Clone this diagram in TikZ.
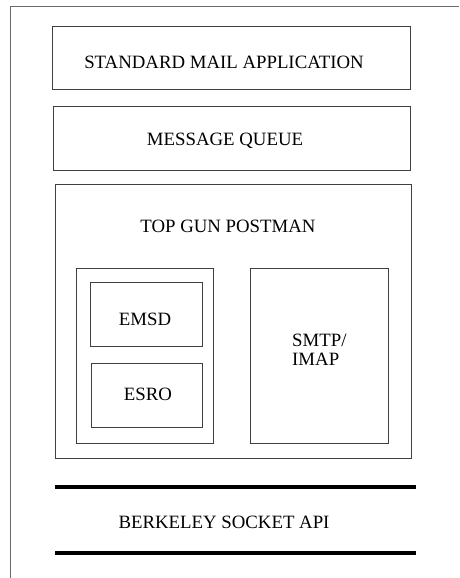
\documentclass[tikz,border=0pt]{standalone}
\usepackage{fontspec}
\setmainfont{Liberation Serif}
\definecolor{boxgray}{HTML}{404040}
\definecolor{framegray}{HTML}{6A6A6A}
\begin{document}
\begin{tikzpicture}[x=1pt,y=-1pt,
  box/.style={draw=boxgray, line width=1pt, inner sep=0pt, fill=none},
  lbl/.style={inner sep=0pt, anchor=base, font=\fontsize{18.8}{18.4}\selectfont},
  bar/.style={line width=4pt, black},
  frame/.style={draw=framegray, line width=1pt}]
\useasboundingbox (0,0) rectangle (459,578);
% open frame
\coordinate (ftr) at (459,6.5);
\coordinate (ftl) at (10.5,6.5);
\coordinate (fbl) at (10.5,578);
\draw[frame] (ftr) -- (ftl) -- (fbl);
% boxes
\node[box, minimum width=357.7pt, minimum height=63.3pt] (sma) at (231.2,57.7) {};
\node[box, minimum width=356.5pt, minimum height=64pt] (mq) at (232.2,138) {};
\node[box, minimum width=356pt, minimum height=274pt] (tgp) at (233,321) {};
\node[box, minimum width=137.5pt, minimum height=175pt] (grp) at (144.75,355.5) {};
\node[box, minimum width=112pt, minimum height=63.5pt] (emsd) at (146,314.25) {};
\node[box, minimum width=111pt, minimum height=64pt] (esro) at (146.5,395) {};
\node[box, minimum width=137.5pt, minimum height=175pt] (smtp) at (319.25,355.5) {};
% labels
\node[lbl] (smat) at (224,68.5) {STANDARD MAIL APPLICATION};
\node[lbl] (mqt) at (225,145.7) {MESSAGE QUEUE};
\node[lbl] (tgpt) at (228,232.9) {TOP GUN POSTMAN};
\node[lbl] (emsdt) at (145,325.9) {EMSD};
\node[lbl] (esrot) at (148,400.2) {ESRO};
\node[lbl, anchor=base west] (smtpt1) at (292,346.9) {SMTP/};
\node[lbl, anchor=base west] (smtpt2) at (292,365.2) {IMAP};
\node[lbl] (bsat) at (224,528.2) {BERKELEY SOCKET API};
% socket bars
\coordinate (b1l) at (55,486.5);
\coordinate (b1r) at (416,486.5);
\coordinate (b2l) at (55,553);
\coordinate (b2r) at (416,553);
\draw[bar] (b1l) -- (b1r);
\draw[bar] (b2l) -- (b2r);
\end{tikzpicture}
\end{document}
